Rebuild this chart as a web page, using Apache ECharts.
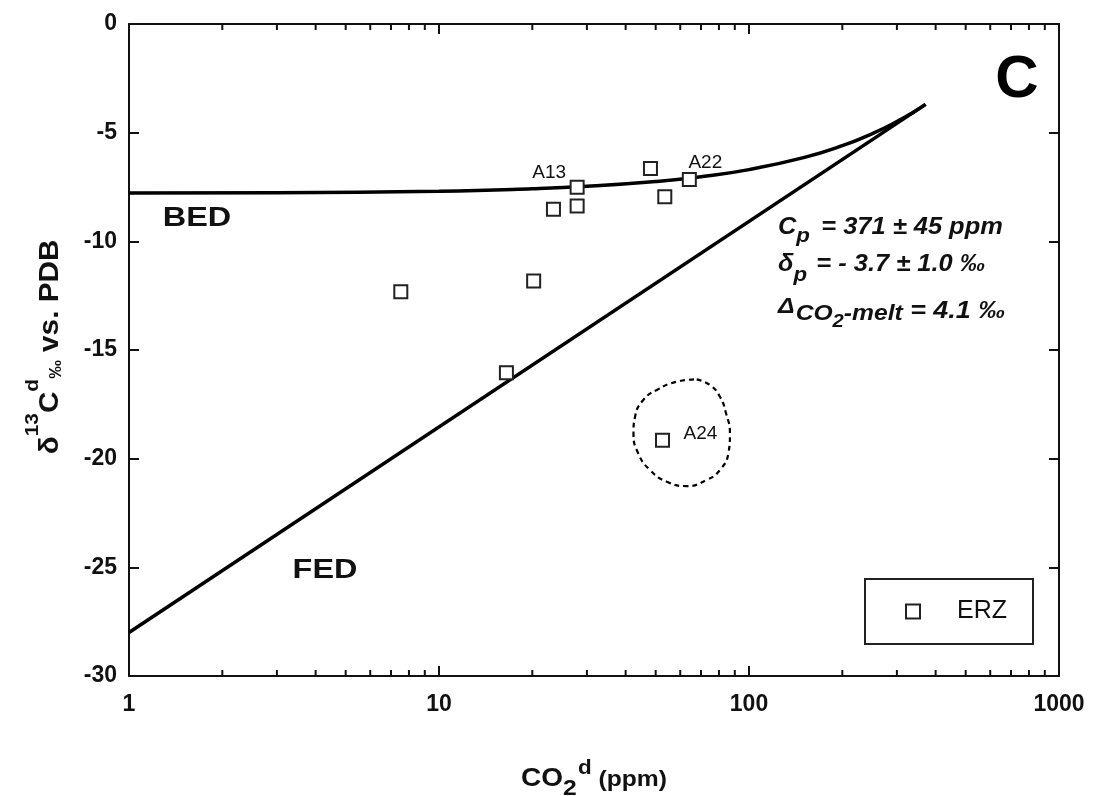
<!DOCTYPE html>
<html>
<head>
<meta charset="utf-8">
<script src="https://cdn.jsdelivr.net/npm/echarts@6/dist/echarts.min.js"></script>
<style>
  html, body { margin: 0; padding: 0; background: #fff; }
  #chart { width: 1093px; height: 796px; }
</style>
</head>
<body>
<div id="chart"></div>
<script>
// ERZ samples: dissolved CO2 (ppm) and carbon isotope composition (‰ vs. PDB)
const erzCO2  = [7.53, 20.2, 16.5, 27.9, 27.9, 23.4, 48.1, 53.5, 64.2, 52.6];
const erzD13C = [-12.32, -11.82, -16.05, -7.51, -8.37, -8.52, -6.65, -7.95, -7.15, -19.15];
const erzNames = ['', '', '', 'A13', '', '', '', '', 'A22', 'A24'];

// Batch equilibrium degassing (BED) curve
const bedCO2  = [1, 3, 10, 20, 30, 50, 70, 100, 150, 200, 250, 300, 340, 371];
const bedD13C = [-7.78, -7.76, -7.69, -7.58, -7.47, -7.25, -7.03, -6.70, -6.15, -5.60, -5.04, -4.49, -4.05, -3.70];

// Fractional equilibrium degassing (FED) line
const fedCO2  = [1, 371];
const fedD13C = [-28.0, -3.7];

// Outline drawn round sample A24
const loopCO2  = [67.8, 74.8, 80.6, 84.3, 86.8, 85.8, 80.6, 73.0, 63.0, 54.3, 47.9, 43.9, 42.4, 42.9, 45.6, 50.4, 58.5, 67.8];
const loopD13C = [-16.35, -16.61, -17.15, -17.91, -18.83, -19.75, -20.52, -20.98, -21.26, -21.06, -20.52, -19.75, -18.83, -18.07, -17.30, -16.84, -16.46, -16.35];

// Axis ranges and ticks
const xTicks = [1, 10, 100, 1000];
const xMinorTicks = [2, 3, 4, 5, 6, 7, 8, 9, 20, 30, 40, 50, 60, 70, 80, 90, 200, 300, 400, 500, 600, 700, 800, 900];
const yMin = -30, yMax = 0, yStep = 5;

// Label placement next to named samples
const sampleLabelOffset = { A13: [-28, -14], A22: [16, -17], A24: [38, -6] };

const FONT = '"Liberation Sans", Arial, Helvetica, sans-serif';
const INK = '#111';

const chart = echarts.init(document.getElementById('chart'), null, { renderer: 'canvas' });

const majorTick = { show: true, inside: true, length: 10, lineStyle: { color: INK, width: 2 } };
const frameLine = { show: true, onZero: false, lineStyle: { color: INK, width: 2 } };

const option = {
  backgroundColor: '#fff',
  animation: false,
  grid: { left: 129, right: 34, top: 24, bottom: 120 },
  xAxis: [
    {
      type: 'log', logBase: 10, min: xTicks[0], max: xTicks[xTicks.length - 1],
      position: 'bottom',
      axisLine: frameLine, axisTick: majorTick,
      splitLine: { show: false },
      axisLabel: {
        margin: 17, color: INK, fontFamily: FONT, fontWeight: 'bold', fontSize: 23,
        formatter: v => String(Math.round(v))
      }
    },
    {
      type: 'log', logBase: 10, min: xTicks[0], max: xTicks[xTicks.length - 1],
      position: 'top',
      axisLine: frameLine, axisTick: majorTick,
      splitLine: { show: false }, axisLabel: { show: false }
    }
  ],
  yAxis: [
    {
      type: 'value', min: yMin, max: yMax, interval: yStep, position: 'left',
      axisLine: frameLine, axisTick: majorTick,
      splitLine: { show: false },
      axisLabel: { margin: 12, color: INK, fontFamily: FONT, fontWeight: 'bold', fontSize: 23 }
    },
    {
      type: 'value', min: yMin, max: yMax, interval: yStep, position: 'right',
      axisLine: frameLine, axisTick: majorTick,
      splitLine: { show: false }, axisLabel: { show: false }
    }
  ],
  legend: {
    data: ['ERZ'],
    left: 865, top: 579,
    orient: 'horizontal',
    borderColor: '#222', borderWidth: 2, borderRadius: 0,
    padding: [20, 26, 20, 40],
    itemWidth: 14, itemHeight: 14,
    textStyle: { fontFamily: FONT, fontSize: 25, color: INK, padding: [0, 0, 0, 32] }
  },
  series: [
    {
      name: 'BED', type: 'line', smooth: true, showSymbol: false, symbol: 'none',
      data: bedCO2.map((x, i) => [x, bedD13C[i]]),
      lineStyle: { color: '#000', width: 3.5 }, z: 3
    },
    {
      name: 'FED', type: 'line', showSymbol: false, symbol: 'none',
      data: fedCO2.map((x, i) => [x, fedD13C[i]]),
      lineStyle: { color: '#000', width: 3.5 }, z: 3
    },
    {
      name: 'A24 field', type: 'line', smooth: true, showSymbol: false, symbol: 'none',
      data: loopCO2.map((x, i) => [x, loopD13C[i]]),
      lineStyle: { color: '#000', width: 2.2, type: [5, 4] }, z: 3
    },
    {
      name: 'ERZ', type: 'scatter', symbol: 'rect', symbolSize: 13,
      itemStyle: { color: '#fff', borderColor: '#222', borderWidth: 2, opacity: 1 },
      data: erzCO2.map((x, i) => {
        const name = erzNames[i];
        const item = { value: [x, erzD13C[i]], name: name };
        if (name) {
          item.label = {
            show: true, position: 'inside', offset: sampleLabelOffset[name],
            formatter: '{b}', color: INK, fontFamily: FONT, fontSize: 19
          };
        }
        return item;
      }),
      z: 5
    },
    {
      name: 'minor ticks', type: 'custom', silent: true, clip: false,
      data: xMinorTicks.map(v => [v, yMin]),
      renderItem: (params, api) => {
        const v = api.value(0);
        const b = api.coord([v, yMin]);
        const t = api.coord([v, yMax]);
        const s = { stroke: INK, lineWidth: 2 };
        return {
          type: 'group',
          children: [
            { type: 'line', shape: { x1: b[0], y1: b[1], x2: b[0], y2: b[1] - 6 }, style: s },
            { type: 'line', shape: { x1: t[0], y1: t[1], x2: t[0], y2: t[1] + 6 }, style: s }
          ]
        };
      },
      z: 4
    }
  ],
  graphic: [
    // Panel letter
    { type: 'text', x: 1017, y: 80, style: { text: 'C', fontFamily: FONT, fontWeight: 'bold', fontSize: 60, fill: '#000', align: 'center', verticalAlign: 'middle' } },
    // Curve names
    { type: 'text', x: 197, y: 219, scaleX: 1.2, style: { text: 'BED', fontFamily: FONT, fontWeight: 'bold', fontSize: 27, fill: INK, align: 'center', verticalAlign: 'middle' } },
    { type: 'text', x: 325, y: 571, scaleX: 1.2, style: { text: 'FED', fontFamily: FONT, fontWeight: 'bold', fontSize: 27, fill: INK, align: 'center', verticalAlign: 'middle' } },
    // Model parameters
    {
      type: 'text', x: 778, y: 215, scaleX: 1.06,
      style: {
        text: '{m|C}{s|p}{m| = 371 ± 45 ppm}', align: 'left', verticalAlign: 'top', fill: INK,
        rich: {
          m: { fontFamily: FONT, fontWeight: 'bold', fontStyle: 'italic', fontSize: 24, lineHeight: 24, verticalAlign: 'top', padding: [0, 0, 0, 0] },
          s: { fontFamily: FONT, fontWeight: 'bold', fontStyle: 'italic', fontSize: 21, lineHeight: 21, verticalAlign: 'top', padding: [11, 4, 0, 0] }
        }
      }
    },
    {
      type: 'text', x: 778, y: 252, scaleX: 1.06,
      style: {
        text: '{m|δ}{s|p}{m| = - 3.7 ± 1.0 ‰}', align: 'left', verticalAlign: 'top', fill: INK,
        rich: {
          m: { fontFamily: FONT, fontWeight: 'bold', fontStyle: 'italic', fontSize: 24, lineHeight: 24, verticalAlign: 'top', padding: [0, 0, 0, 0] },
          s: { fontFamily: FONT, fontWeight: 'bold', fontStyle: 'italic', fontSize: 21, lineHeight: 21, verticalAlign: 'top', padding: [13, 2, 0, 0] }
        }
      }
    },
    {
      type: 'text', x: 778, y: 294, scaleX: 1.12,
      style: {
        text: '{d|Δ}{s|CO}{s2|2}{s|-melt}{m| = 4.1 ‰}', align: 'left', verticalAlign: 'top', fill: INK,
        rich: {
          d: { fontFamily: FONT, fontWeight: 'bold', fontStyle: 'italic', fontSize: 22, lineHeight: 22, verticalAlign: 'top', padding: [2, 1, 0, 0] },
          s: { fontFamily: FONT, fontWeight: 'bold', fontStyle: 'italic', fontSize: 22, lineHeight: 22, verticalAlign: 'top', padding: [9, 0, 0, 0] },
          s2: { fontFamily: FONT, fontWeight: 'bold', fontStyle: 'italic', fontSize: 18, lineHeight: 18, verticalAlign: 'top', padding: [19, 0, 0, 0] },
          m: { fontFamily: FONT, fontWeight: 'bold', fontStyle: 'italic', fontSize: 24, lineHeight: 24, verticalAlign: 'top', padding: [5, 0, 0, 0] }
        }
      }
    },
    // X axis title
    {
      type: 'text', x: 594, y: 769, scaleX: 1.12,
      style: {
        text: '{m|CO}{sb|2}{sp|d}{p| (ppm)}', align: 'center', verticalAlign: 'middle', fill: INK,
        rich: {
          m: { fontFamily: FONT, fontWeight: 'bold', fontSize: 25, lineHeight: 25, verticalAlign: 'top', padding: [10, 0, 0, 0] },
          sb: { fontFamily: FONT, fontWeight: 'bold', fontSize: 22, lineHeight: 22, verticalAlign: 'top', padding: [21, 0, 0, 0] },
          sp: { fontFamily: FONT, fontWeight: 'bold', fontSize: 20, lineHeight: 20, verticalAlign: 'top', padding: [2, 0, 0, 1] },
          p: { fontFamily: FONT, fontWeight: 'bold', fontSize: 22, lineHeight: 22, verticalAlign: 'top', padding: [12, 0, 0, 0] }
        }
      }
    },
    // Y axis title
    {
      type: 'text', x: 37, y: 347, rotation: Math.PI / 2, scaleX: 1.1,
      style: {
        text: '{m|δ}{s|13}{m|C}{s|d}{pm|‰}{m| vs. PDB}', align: 'center', verticalAlign: 'middle', fill: INK,
        rich: {
          m: { fontFamily: FONT, fontWeight: 'bold', fontSize: 27, lineHeight: 27, verticalAlign: 'top', padding: [14, 0, 0, 0] },
          s: { fontFamily: FONT, fontWeight: 'bold', fontSize: 19, lineHeight: 19, verticalAlign: 'top', padding: [0, 0, 0, 0] },
          pm: { fontFamily: FONT, fontWeight: 'bold', fontSize: 17, lineHeight: 17, verticalAlign: 'top', padding: [24, 0, 0, 0] }
        }
      }
    }
  ]
};

chart.setOption(option);
</script>
</body>
</html>
